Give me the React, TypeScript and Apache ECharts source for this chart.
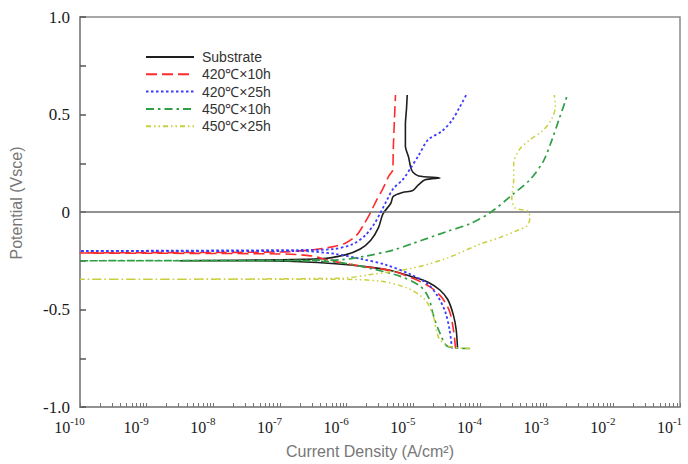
import React, { useEffect, useRef } from "react";
import * as echarts from "echarts";

const seriesNames = ["Substrate", "420℃×10h", "420℃×25h", "450℃×10h", "450℃×25h"];
const decadeExponents = [-10, -9, -8, -7, -6, -5, -4, -3, -2, -1];
const minorMultipliers = [2, 3, 4, 5, 6, 7, 8, 9];
const potentialTickValues = [-1, -0.75, -0.5, -0.25, 0, 0.25, 0.5, 0.75, 1];

// Current density (A/cm^2) and potential (V vs SCE), traced from bottom of cathodic branch
const substrateCurrent = [4.6e-5, 4.4e-5, 4.0e-5, 3.3e-5, 2.5e-5, 1.66e-5, 9.1e-6, 4.6e-6, 1.9e-6, 6.8e-7, 2.0e-7, 3.6e-8, 3.2e-9, 4.1e-7, 9.5e-7, 1.6e-6, 2.3e-6, 3.0e-6, 3.5e-6, 4.6e-6, 5.0e-6, 6.9e-6, 9.8e-6, 1.2e-5, 1.5e-5, 2.5e-5, 1.2e-5, 9.8e-6, 9.1e-6, 8.5e-6, 7.6e-6, 7.6e-6, 7.9e-6, 8.1e-6];
const substratePotential = [-0.70, -0.605, -0.53, -0.45, -0.40, -0.36, -0.33, -0.30, -0.28, -0.265, -0.255, -0.25, -0.25, -0.24, -0.22, -0.19, -0.145, -0.08, -0.01, 0.045, 0.08, 0.10, 0.11, 0.14, 0.165, 0.175, 0.185, 0.205, 0.23, 0.28, 0.34, 0.445, 0.53, 0.60];

const t420h10Current = [4.3e-5, 4.0e-5, 3.5e-5, 2.7e-5, 1.8e-5, 9.8e-6, 4.6e-6, 1.6e-6, 5.8e-7, 2.9e-7, 1.0e-7, 1e-10, 1.0e-7, 2.9e-7, 5.8e-7, 9.5e-7, 1.4e-6, 1.8e-6, 2.3e-6, 2.8e-6, 3.5e-6, 4.3e-6, 4.9e-6, 5.0e-6, 5.2e-6, 5.4e-6];
const t420h10Potential = [-0.70, -0.605, -0.51, -0.44, -0.385, -0.34, -0.30, -0.277, -0.25, -0.225, -0.215, -0.21, -0.205, -0.195, -0.18, -0.16, -0.12, -0.065, 0.0, 0.06, 0.12, 0.185, 0.215, 0.32, 0.47, 0.60];

const t420h25Current = [3.8e-5, 3.5e-5, 3.0e-5, 2.3e-5, 1.66e-5, 9.1e-6, 3.8e-6, 1.6e-6, 6.8e-7, 2.0e-7, 1e-10, 2.0e-7, 6.3e-7, 1.23e-6, 1.9e-6, 2.6e-6, 3.2e-6, 4.0e-6, 5.0e-6, 6.9e-6, 9.1e-6, 1.2e-5, 1.66e-5, 2.7e-5, 3.8e-5, 5.0e-5, 6.2e-5];
const t420h25Potential = [-0.70, -0.605, -0.51, -0.43, -0.37, -0.32, -0.27, -0.24, -0.215, -0.20, -0.20, -0.195, -0.19, -0.165, -0.12, -0.06, -0.005, 0.06, 0.12, 0.165, 0.225, 0.29, 0.37, 0.415, 0.47, 0.54, 0.60];

const t450h10Current = [7.1e-5, 3.3e-5, 2.5e-5, 2.0e-5, 1.7e-5, 1.26e-5, 6.4e-6, 2.3e-6, 8.1e-7, 2.0e-7, 1e-10, 2.0e-7, 8.1e-7, 2.0e-6, 5.0e-6, 1.0e-5, 3.2e-5, 7.1e-5, 1.4e-4, 3.1e-4, 5.6e-4, 8.9e-4, 1.2e-3, 1.55e-3, 2.0e-3];
const t450h10Potential = [-0.70, -0.69, -0.62, -0.53, -0.44, -0.38, -0.33, -0.29, -0.26, -0.25, -0.25, -0.248, -0.245, -0.225, -0.195, -0.16, -0.10, -0.06, -0.005, 0.09, 0.165, 0.26, 0.37, 0.48, 0.59];

const t450h25Current = [7.1e-5, 3.5e-5, 2.5e-5, 2.2e-5, 2.0e-5, 1.5e-5, 8.1e-6, 3.2e-6, 8.1e-7, 1e-10, 8.1e-7, 2.3e-6, 9.1e-6, 3.0e-5, 1.0e-4, 2.0e-4, 3.6e-4, 5.1e-4, 5.6e-4, 5.2e-4, 3.4e-4, 3.0e-4, 3.2e-4, 3.2e-4, 3.9e-4, 5.6e-4, 8.9e-4, 1.2e-3, 1.35e-3, 1.3e-3];
const t450h25Potential = [-0.70, -0.69, -0.655, -0.605, -0.535, -0.45, -0.39, -0.355, -0.345, -0.345, -0.34, -0.32, -0.29, -0.24, -0.165, -0.13, -0.095, -0.07, -0.03, 0.005, 0.02, 0.07, 0.165, 0.25, 0.32, 0.37, 0.42, 0.48, 0.54, 0.60];

const currents = [substrateCurrent, t420h10Current, t420h25Current, t450h10Current, t450h25Current];
const potentials = [substratePotential, t420h10Potential, t420h25Potential, t450h10Potential, t450h25Potential];
const colors = ["#1e1e1e", "#ff2b2b", "#3b3bff", "#2f9e44", "#c9cf3c"];
const dashes: any[] = ["solid", [11, 5], [2.5, 2.5], [8, 4, 2.5, 4], [5, 3, 1.5, 3, 1.5, 3]];
const widths = [1.6, 1.6, 1.8, 1.7, 1.5];

export default function App() {
  const ref = useRef<HTMLDivElement>(null);
  useEffect(() => {
    if (!ref.current) return;
    const chart = echarts.init(ref.current, undefined, { renderer: "svg" });
    const tickValues: number[] = [];
    decadeExponents.forEach((e) => {
      tickValues.push(e);
      if (e < -1) minorMultipliers.forEach((m) => tickValues.push(e + Math.log10(m)));
    });
    const series: any[] = seriesNames.map((name, si) => ({
      name,
      type: "line",
      symbol: "none",
      smooth: 0.3,
      data: currents[si].map((c, i) => [Math.log10(c), potentials[si][i]]),
      lineStyle: { color: colors[si], width: widths[si], type: dashes[si] },
      itemStyle: { color: colors[si] },
      z: 3 + si,
      markLine:
        si === 0
          ? {
              silent: true,
              symbol: ["none", "none"],
              label: { show: false },
              lineStyle: { color: "#6e6e6e", type: "solid", width: 1.6 },
              data: [{ yAxis: 0 }],
            }
          : undefined,
    }));
    chart.setOption({
      animation: false,
      backgroundColor: "#ffffff",
      grid: { left: 79, right: 8, top: 17, bottom: 57, show: true, borderColor: "#8a8a8a", borderWidth: 1.5 },
      legend: {
        data: seriesNames,
        orient: "vertical",
        left: 140,
        top: 45,
        itemWidth: 48,
        itemHeight: 14,
        itemGap: 3.3,
        itemStyle: { opacity: 0 },
        textStyle: { fontSize: 14, color: "#333", fontFamily: "Liberation Sans, Arial, sans-serif", padding: [0, 0, 0, 3] },
      },
      xAxis: {
        type: "value",
        min: -10,
        max: -1,
        interval: 1,
        position: "bottom",
        name: "Current Density (A/cm²)",
        nameLocation: "middle",
        nameGap: 36,
        nameTextStyle: { fontSize: 16, color: "#777", fontFamily: "Liberation Sans, Arial, sans-serif", padding: [0, 20, 0, 0] },
        axisLine: { onZero: false, lineStyle: { color: "#8a8a8a", width: 1.5 } },
        axisTick: { show: true, inside: true, length: 4, customValues: tickValues, lineStyle: { color: "#777" } },
        splitLine: { show: false },
        axisLabel: {
          margin: 8,
          padding: [0, 21, 0, 0],
          formatter: (v: number) => `{b|10}{s|${v}}`,
          rich: {
            b: { fontSize: 16, fontFamily: "Liberation Serif, serif", color: "#1a1a1a", lineHeight: 20, verticalAlign: "bottom" },
            s: { fontSize: 11, fontFamily: "Liberation Serif, serif", color: "#1a1a1a", lineHeight: 20, verticalAlign: "top", padding: [0, 0, 8, 0] },
          },
        },
      },
      yAxis: {
        type: "value",
        min: -1,
        max: 1,
        interval: 0.5,
        name: "Potential (Vsce)",
        nameLocation: "middle",
        nameGap: 56,
        nameRotate: 90,
        nameTextStyle: { fontSize: 16, color: "#777", fontFamily: "Liberation Sans, Arial, sans-serif", padding: [0, 0, 0, 18] },
        axisLine: { show: true, onZero: false, lineStyle: { color: "#8a8a8a", width: 1.5 } },
        axisTick: { show: true, inside: true, length: 6, customValues: potentialTickValues, lineStyle: { color: "#555", width: 1.5 } },
        splitLine: { show: false },
        axisLabel: {
          margin: 10,
          fontSize: 17,
          fontFamily: "Liberation Serif, serif",
          color: "#1a1a1a",
          formatter: (v: number) => (v === 0 ? "0" : v.toFixed(1)),
        },
      },
      series,
    });
    return () => chart.dispose();
  }, []);
  return <div ref={ref} style={{ position: "fixed", left: 0, top: 0, width: 688, height: 464 }} />;
}
